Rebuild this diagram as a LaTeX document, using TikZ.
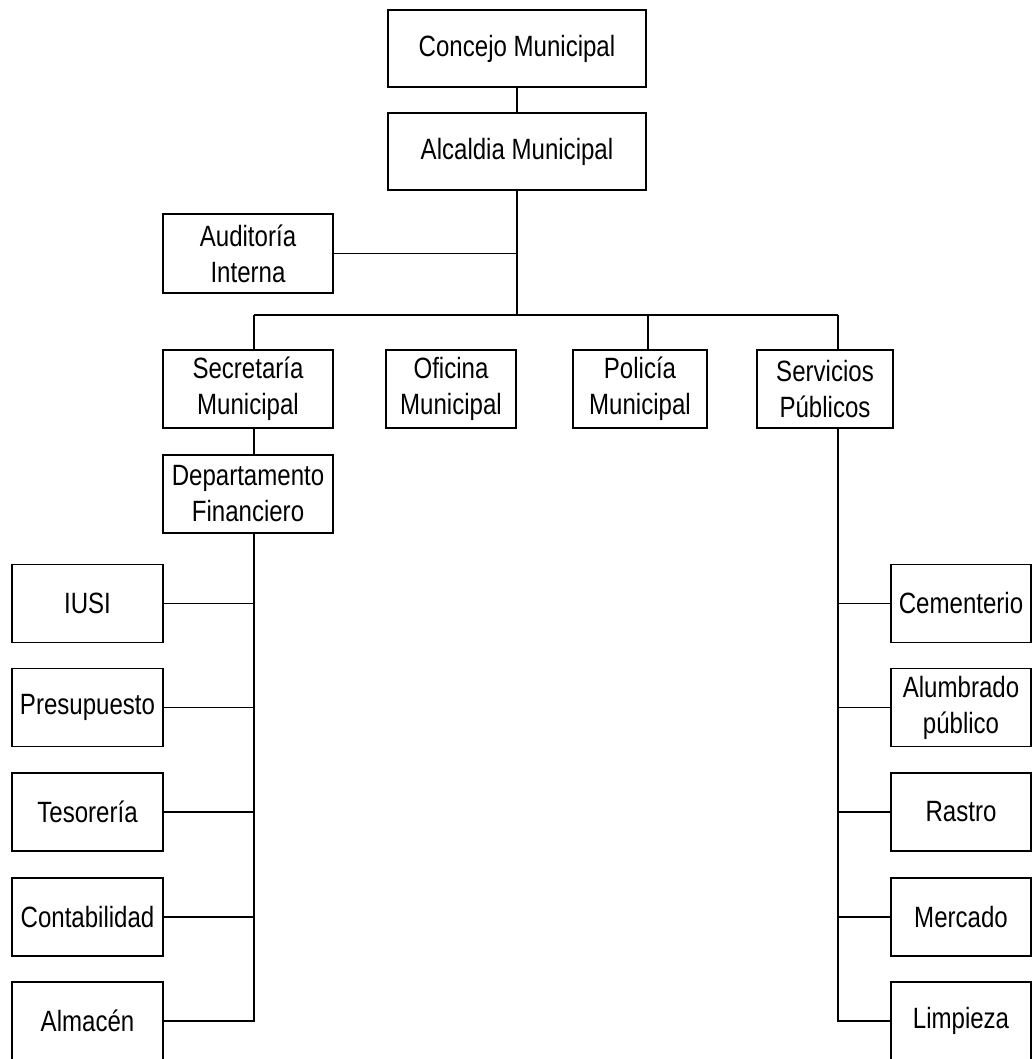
\documentclass[tikz,border=0pt]{standalone}
\usepackage{fontspec}
\setmainfont{Liberation Sans}[FakeStretch=0.82]
\begin{document}
\begin{tikzpicture}[x=0.75pt,y=-0.75pt,
  box/.style={draw, line width=1.4pt, align=center, inner sep=0pt, outer sep=0pt,
    font=\fontsize{22pt}{27pt}\selectfont},
  conn/.style={line width=0.8pt}]
\useasboundingbox (0,0) rectangle (1034,1059);
% top
\node[box, minimum width=258*0.75pt, minimum height=77*0.75pt] (con) at (517,48.5) {Concejo Municipal};
\node[box, minimum width=258*0.75pt, minimum height=77*0.75pt] (alc) at (517,151.5) {Alcaldia Municipal};
\node[box, minimum width=170*0.75pt, minimum height=79*0.75pt] (aud) at (248,253.5) {Auditoría\\Interna};
% second level
\node[box, minimum width=170*0.75pt, minimum height=78*0.75pt] (sec) at (248,389) {Secretaría\\Municipal};
\node[box, minimum width=130*0.75pt, minimum height=78*0.75pt] (ofi) at (451,389) {Oficina\\Municipal};
\node[box, minimum width=134*0.75pt, minimum height=78*0.75pt] (pol) at (640,389) {Policía\\Municipal};
\node[box, minimum width=136*0.75pt, minimum height=78*0.75pt] (ser) at (825,389) {Servicios\\Públicos};
\node[box, minimum width=170*0.75pt, minimum height=78*0.75pt] (dep) at (248,494) {Departamento\\Financiero};
% left column
\tikzset{lbox/.style={box, minimum width=151*0.75pt, minimum height=78*0.75pt},
         rbox/.style={box, minimum width=140*0.75pt, minimum height=78*0.75pt}}
\node[lbox] (ius) at (87.5,603.5) {IUSI};
\node[lbox] (pre) at (87.5,707.5) {Presupuesto};
\node[lbox] (tes) at (87.5,812) {Tesorería};
\node[lbox] (cont) at (87.5,917) {Contabilidad};
\node[lbox] (alm) at (87.5,1021) {Almacén};
% right column
\node[rbox] (cem) at (961,603.5) {Cementerio};
\node[rbox] (alu) at (961,707.5) {Alumbrado\\público};
\node[rbox] (ras) at (961,812) {Rastro};
\node[rbox] (mer) at (961,917) {Mercado};
\node[rbox] (lim) at (961,1021) {Limpieza};
% connector points
\coordinate (busM) at (517,315);
\coordinate (busL) at (254,315);
\coordinate (busR) at (838,315);
% connectors
\draw[conn] (con) -- (alc);
\draw[conn] (alc) -- (busM);
\draw[conn] (aud.east) -- (aud.east -| busM);
\draw[conn] (busL) -- (busR);
\draw[conn] (busL) -- (busL |- sec.north);
\draw[conn] ([xshift=6pt]pol.north) -- ([xshift=6pt]pol.north |- busM);
\draw[conn] (busR) -- (busR |- ser.north);
\draw[conn] (busL |- sec.south) -- (busL |- dep.north);
\draw[conn] (busL |- dep.south) |- (alm.east);
\draw[conn] (ius.east) -- (ius.east -| busL);
\draw[conn] (pre.east) -- (pre.east -| busL);
\draw[conn] (tes.east) -- (tes.east -| busL);
\draw[conn] (cont.east) -- (cont.east -| busL);
\draw[conn] (busR |- ser.south) |- (lim.west);
\draw[conn] (cem.west) -- (cem.west -| busR);
\draw[conn] (alu.west) -- (alu.west -| busR);
\draw[conn] (ras.west) -- (ras.west -| busR);
\draw[conn] (mer.west) -- (mer.west -| busR);
\end{tikzpicture}
\end{document}
